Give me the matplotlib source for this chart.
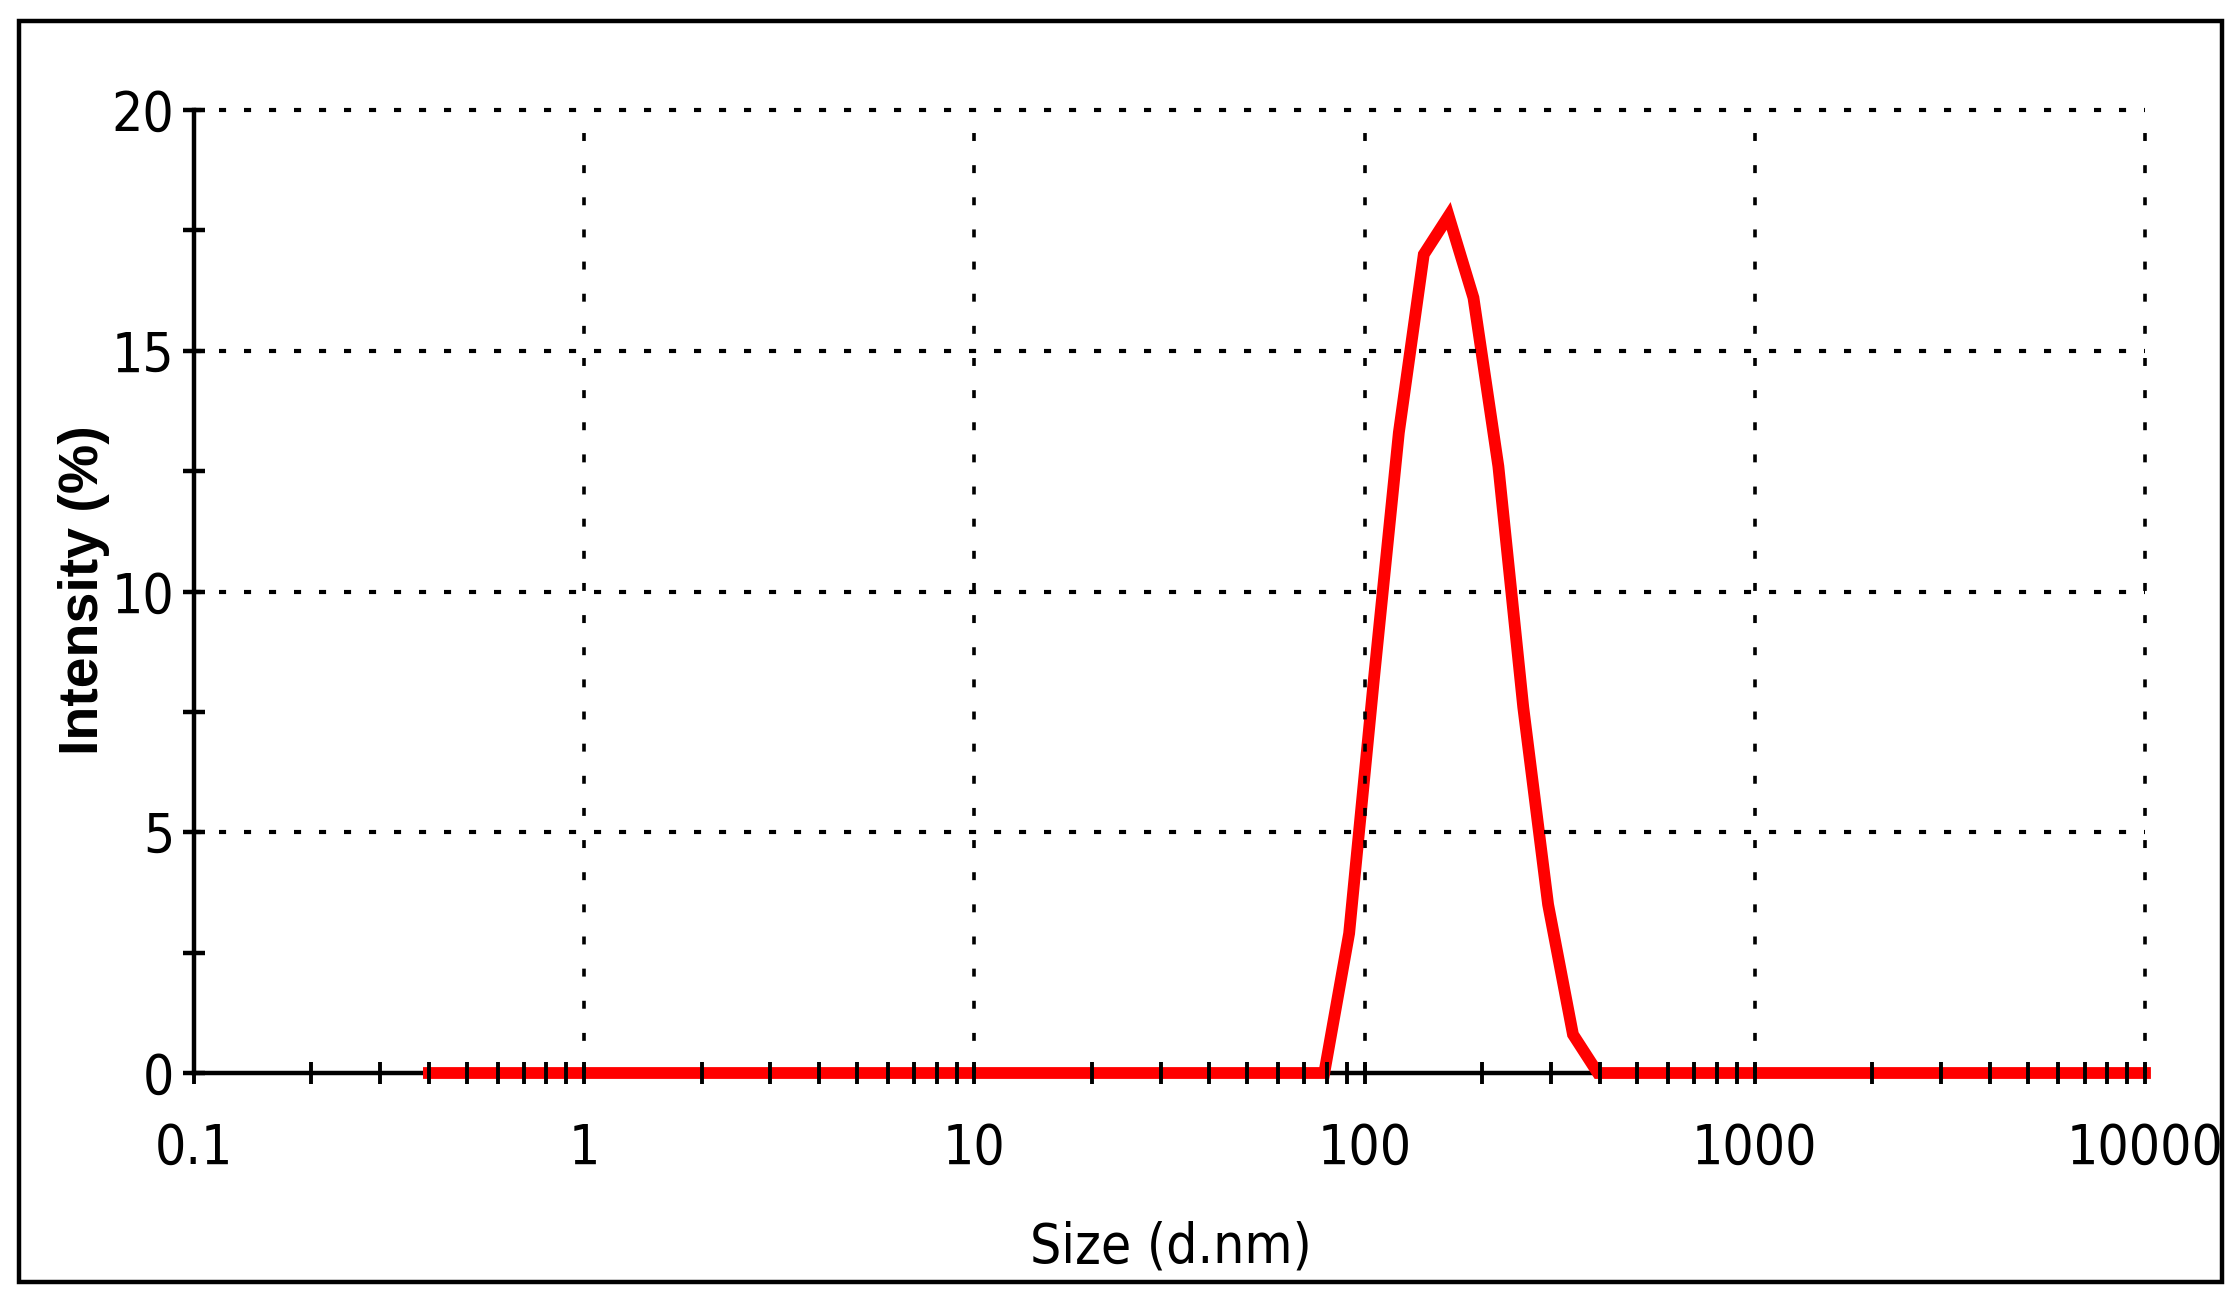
import matplotlib
matplotlib.use("Agg")
import matplotlib.pyplot as plt
from matplotlib import font_manager
from matplotlib.font_manager import FontProperties
from matplotlib.ticker import LogLocator, NullFormatter, MultipleLocator
from matplotlib.patches import Rectangle

# size bins (d.nm) and intensity (%)
sizes = [0.4, 0.4632, 0.5365, 0.6213, 0.7195, 0.8332, 0.9649, 1.117, 1.294, 1.499,
         1.736, 2.010, 2.328, 2.696, 3.122, 3.615, 4.187, 4.849, 5.615, 6.503,
         7.531, 8.721, 10.10, 11.70, 13.54, 15.69, 18.17, 21.04, 24.36, 28.21,
         32.67, 37.84, 43.82, 50.75, 58.77, 68.06, 78.82, 91.28, 105.7, 122.4,
         141.8, 164.2, 190.1, 220.2, 255.0, 295.3, 342.0, 396.1, 458.7, 531.2,
         615.1, 712.4, 825.0, 955.4, 1106, 1281, 1484, 1718, 1990, 2305,
         2669, 3091, 3580, 4145, 4801, 5560, 6439, 7456, 8635, 10000]
intensity = [0, 0, 0, 0, 0, 0, 0, 0, 0, 0,
             0, 0, 0, 0, 0, 0, 0, 0, 0, 0,
             0, 0, 0, 0, 0, 0, 0, 0, 0, 0,
             0, 0, 0, 0, 0, 0, 0, 2.9, 8.2, 13.3,
             17.0, 17.8, 16.1, 12.6, 7.6, 3.5, 0.8, 0, 0, 0,
             0, 0, 0, 0, 0, 0, 0, 0, 0, 0,
             0, 0, 0, 0, 0, 0, 0, 0, 0, 0]

x_ticks = [0.1, 1, 10, 100, 1000, 10000]
x_tick_labels = ["0.1", "1", "10", "100", "1000", "10000"]
y_ticks = [0, 5, 10, 15, 20]
y_tick_labels = ["0", "5", "10", "15", "20"]


def narrow_font():
    # look for an installed narrow / condensed regular face, narrowest first
    prefs = [("LiberationSansNarrow-Regular", 43), ("NotoSans-ExtraCondensed.ttf", 43),
             ("NotoSans-ExtraCondensed.otf", 43), ("DejaVuSansCondensed.ttf", 39.5),
             ("NotoSans-Condensed.ttf", 40), ("RobotoCondensed-Regular", 42),
             ("Condensed-Regular", 40), ("Narrow-Regular", 43), ("Condensed.ttf", 39)]
    files = [f.fname for f in font_manager.fontManager.ttflist]
    for key, size in prefs:
        for fn in files:
            if key in fn.split("/")[-1]:
                return FontProperties(fname=fn), size
    return FontProperties(family="Liberation Sans"), 36


narrow, tick_size = narrow_font()
label_size = tick_size

W, H, DPI = 2240, 1305, 100

fig = plt.figure(figsize=(W / DPI, H / DPI), dpi=DPI)
fig.patch.set_facecolor("white")

# outer frame
fig.patches.append(Rectangle((19 / W, 1 - 1282 / H), (2222 - 19) / W, (1282 - 21) / H,
                             transform=fig.transFigure, fill=False,
                             edgecolor="black", linewidth=3.2))

ax = fig.add_axes([194 / W, 1 - 1073 / H, (2145 - 194) / W, (1073 - 110) / H])
ax.set_xscale("log")
ax.set_xlim(0.1, 10000)
ax.set_ylim(0, 20)

ax.plot(sizes, intensity, color="#ff0000", linewidth=8.5, zorder=2,
        clip_on=False, solid_joinstyle="miter")

for side in ["top", "right"]:
    ax.spines[side].set_visible(False)
for side in ["left", "bottom"]:
    ax.spines[side].set_linewidth(3.2)
    ax.spines[side].set_zorder(1.9)
ax.set_axisbelow(False)

ax.set_xticks(x_ticks)
ax.set_xticklabels(x_tick_labels)
ax.xaxis.set_minor_locator(LogLocator(base=10, subs=[2, 3, 4, 5, 6, 7, 8, 9], numticks=20))
ax.xaxis.set_minor_formatter(NullFormatter())
ax.set_yticks(y_ticks)
ax.set_yticklabels(y_tick_labels)
ax.yaxis.set_minor_locator(MultipleLocator(2.5))

ax.tick_params(axis="x", which="both", direction="inout", length=16, width=2.8,
               pad=27)
ax.tick_params(axis="y", which="both", direction="inout", length=16, width=3.2,
               pad=6)
for lab in ax.get_xticklabels() + ax.get_yticklabels():
    lab.set_fontproperties(narrow)
    lab.set_fontsize(tick_size)

# dotted grid
ax.grid(True, axis="y", which="major", color="black", linewidth=3,
        linestyle=(0, (1.7, 4.3)))
ax.grid(True, axis="x", which="major", color="black", linewidth=2.6,
        linestyle=(0, (2.2, 6.7)))
for gl in ax.get_xgridlines() + ax.get_ygridlines():
    gl.set_clip_on(False)
ax.get_ygridlines()[0].set_visible(False)
ax.get_xgridlines()[0].set_visible(False)

xl = fig.text(1171 / W, 1 - 1263 / H, "Size (d.nm)", ha="center", va="baseline")
xl.set_fontproperties(narrow)
xl.set_fontsize(label_size)
fig.text(98 / W, 1 - 590 / H, "Intensity (%)", rotation=90, rotation_mode="anchor",
         ha="center", va="baseline", fontsize=40, fontweight="bold",
         family=["Liberation Sans", "DejaVu Sans"])

fig.savefig("out.png", dpi=DPI)
